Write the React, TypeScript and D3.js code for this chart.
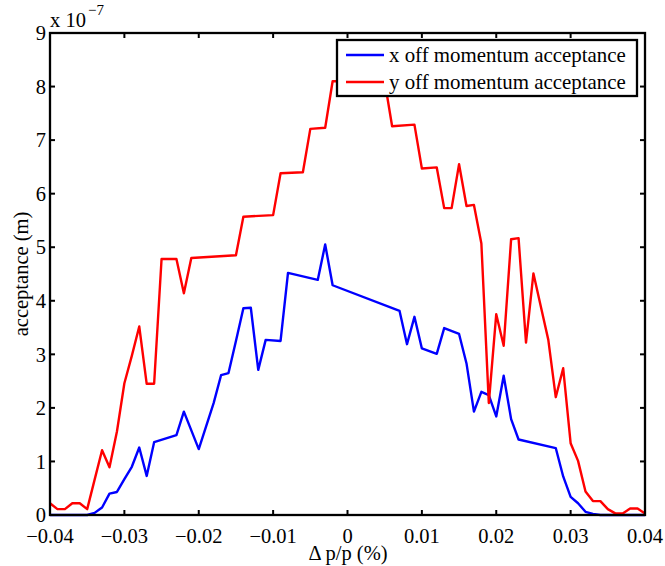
import React from "react";
import * as d3 from "d3";

const xTicks = [-0.04, -0.03, -0.02, -0.01, 0, 0.01, 0.02, 0.03, 0.04];
const xTickLabels = ["\u22120.04", "\u22120.03", "\u22120.02", "\u22120.01", "0", "0.01", "0.02", "0.03", "0.04"];
const yTicks = [0, 1, 2, 3, 4, 5, 6, 7, 8, 9];

// values in units of 1e-7 m
const xOffX = [-0.040, -0.035, -0.034, -0.033, -0.032, -0.031, -0.030, -0.029, -0.028, -0.027, -0.026, -0.023, -0.022, -0.020, -0.019, -0.018, -0.017, -0.016, -0.015, -0.014, -0.013, -0.012, -0.011, -0.009, -0.008, -0.004, -0.003, -0.002, 0.007, 0.008, 0.009, 0.010, 0.012, 0.013, 0.015, 0.016, 0.017, 0.018, 0.019, 0.020, 0.021, 0.022, 0.023, 0.028, 0.029, 0.030, 0.031, 0.032, 0.033, 0.034, 0.040];
const xOffY = [0, 0, 0.04, 0.14, 0.40, 0.43, 0.67, 0.90, 1.26, 0.73, 1.36, 1.49, 1.93, 1.23, 1.66, 2.09, 2.61, 2.65, 3.25, 3.86, 3.87, 2.71, 3.27, 3.25, 4.52, 4.39, 5.05, 4.29, 3.81, 3.19, 3.70, 3.11, 3.01, 3.49, 3.38, 2.83, 1.93, 2.30, 2.24, 1.84, 2.60, 1.79, 1.41, 1.25, 0.72, 0.34, 0.22, 0.06, 0.02, 0, 0];

const yOffX = [-0.040, -0.039, -0.038, -0.037, -0.036, -0.035, -0.034, -0.033, -0.032, -0.031, -0.030, -0.029, -0.028, -0.027, -0.026, -0.025, -0.023, -0.022, -0.021, -0.015, -0.014, -0.010, -0.009, -0.006, -0.005, -0.003, -0.002, 0.005, 0.006, 0.009, 0.010, 0.012, 0.013, 0.014, 0.015, 0.016, 0.017, 0.018, 0.019, 0.020, 0.021, 0.022, 0.023, 0.024, 0.025, 0.026, 0.027, 0.028, 0.029, 0.030, 0.031, 0.032, 0.033, 0.034, 0.035, 0.036, 0.037, 0.038, 0.039, 0.040];
const yOffY = [0.22, 0.11, 0.11, 0.22, 0.22, 0.11, 0.66, 1.21, 0.89, 1.56, 2.46, 2.97, 3.52, 2.45, 2.45, 4.78, 4.78, 4.14, 4.80, 4.85, 5.57, 5.60, 6.38, 6.40, 7.21, 7.23, 8.10, 8.10, 7.26, 7.29, 6.47, 6.49, 5.73, 5.73, 6.55, 5.77, 5.79, 5.07, 2.09, 3.75, 3.16, 5.15, 5.17, 3.22, 4.51, 3.89, 3.27, 2.20, 2.74, 1.34, 1.01, 0.44, 0.26, 0.26, 0.11, 0.03, 0.03, 0.12, 0.12, 0.03];

const seriesNames = ["x off momentum acceptance", "y off momentum acceptance"];
const seriesColors = ["#0000ff", "#ff0000"];

const FF = "Liberation Serif";

export default function App() {
  const W = 665, H = 566;
  const L = 50, R = 645, T = 33, B = 515;
  const x = d3.scaleLinear().domain([-0.04, 0.04]).range([L, R]);
  const y = d3.scaleLinear().domain([0, 9]).range([B, T]);
  const line = d3.line<[number, number]>().x(d => x(d[0])).y(d => y(d[1]));
  const s1 = xOffX.map((v, i) => [v, xOffY[i]] as [number, number]);
  const s2 = yOffX.map((v, i) => [v, yOffY[i]] as [number, number]);
  const fs = 20.5;
  const tl = 5;
  const legX = 337, legY = 40, legW = 300, legH = 56;
  return (
    <svg width={W} height={H} style={{ position: "absolute", left: 0, top: 0 }} fontFamily={FF}>
      <rect x={0} y={0} width={W} height={H} fill="#fff" />
      <path d={line(s1) || ""} fill="none" stroke={seriesColors[0]} strokeWidth={2.4} strokeLinejoin="round" />
      <path d={line(s2) || ""} fill="none" stroke={seriesColors[1]} strokeWidth={2.4} strokeLinejoin="round" />
      {xTicks.map((t, i) => (
        <g key={"xt" + i}>
          <line x1={x(t)} x2={x(t)} y1={B} y2={B - tl} stroke="#000" strokeWidth={2} />
          <line x1={x(t)} x2={x(t)} y1={T} y2={T + tl} stroke="#000" strokeWidth={2} />
          <text x={x(t)} y={543} fontSize={fs} textAnchor="middle" fontFamily={FF}>{xTickLabels[i]}</text>
        </g>
      ))}
      {yTicks.map((t, i) => (
        <g key={"yt" + i}>
          <line x1={L} x2={L + tl} y1={y(t)} y2={y(t)} stroke="#000" strokeWidth={2} />
          <line x1={R} x2={R - tl} y1={y(t)} y2={y(t)} stroke="#000" strokeWidth={2} />
          <text x={46} y={y(t)} dy="0.35em" fontSize={fs} textAnchor="end" fontFamily={FF}>{t}</text>
        </g>
      ))}
      <rect x={L} y={T} width={R - L} height={B - T} fill="none" stroke="#000" strokeWidth={2.3} />
      <text x={50} y={27} fontSize={fs} fontFamily={FF}>x 10</text>
      <text x={88} y={15} fontSize={15} fontFamily={FF}>{"\u22127"}</text>
      <text x={348} y={560} fontSize={fs} textAnchor="middle" fontFamily={FF}>{"\u0394 p/p (%)"}</text>
      <text transform={`translate(28,${(T + B) / 2}) rotate(-90)`} fontSize={fs} textAnchor="middle" fontFamily={FF}>acceptance (m)</text>
      <rect x={legX} y={legY} width={legW} height={legH} fill="#fff" stroke="#000" strokeWidth={2.3} />
      {seriesNames.map((n, i) => (
        <g key={"lg" + i}>
          <line x1={346} x2={384} y1={55 + i * 27} y2={55 + i * 27} stroke={seriesColors[i]} strokeWidth={2.4} />
          <text x={389} y={55 + i * 27} dy="0.33em" fontSize={20.9} fontFamily={FF}>{n}</text>
        </g>
      ))}
    </svg>
  );
}
